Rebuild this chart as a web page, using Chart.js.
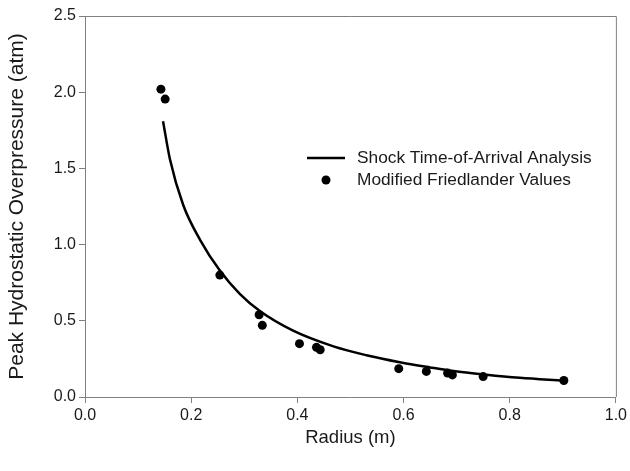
<!DOCTYPE html>
<html>
<head>
<meta charset="utf-8">
<script src="https://cdn.jsdelivr.net/npm/chart.js@4/dist/chart.umd.min.js"></script>
<style>
  html, body { margin: 0; padding: 0; background: #fff; }
  #wrap { width: 630px; height: 471px; }
</style>
</head>
<body>
<div id="wrap"><canvas id="chart" width="630" height="471"></canvas></div>
<script>
// Shock time-of-arrival curve
const curveR = [0.147, 0.160, 0.185, 0.217, 0.254, 0.292, 0.330, 0.392, 0.468, 0.530, 0.593, 0.650, 0.694, 0.756, 0.819, 0.901];
const curveP = [1.81, 1.56, 1.26, 1.03, 0.83, 0.675, 0.562, 0.435, 0.332, 0.274, 0.228, 0.194, 0.170, 0.146, 0.126, 0.107];

// Modified Friedlander points
const friedR = [0.143, 0.151, 0.254, 0.328, 0.334, 0.404, 0.436, 0.443, 0.591, 0.643, 0.683, 0.692, 0.750, 0.902];
const friedP = [2.02, 1.955, 0.80, 0.54, 0.47, 0.35, 0.326, 0.31, 0.186, 0.168, 0.157, 0.145, 0.134, 0.108];

const seriesNames = ["Shock Time-of-Arrival Analysis", "Modified Friedlander Values"];
const xTicks = [0, 0.2, 0.4, 0.6, 0.8, 1.0];
const yTicks = [0, 0.5, 1.0, 1.5, 2.0, 2.5];

const axisGrey = "#808080";
const textColor = "#1a1a1a";
const font = "'Liberation Sans', Arial, sans-serif";

const zip = (xs, ys) => xs.map((x, i) => ({ x, y: ys[i] }));

// top + right border lines of the plot box
const frame = {
  id: "frame",
  afterDraw(chart) {
    const { ctx, chartArea: a } = chart;
    ctx.save();
    ctx.strokeStyle = axisGrey;
    ctx.lineWidth = 1;
    ctx.beginPath();
    ctx.moveTo(a.left, a.top + 0.5);
    ctx.lineTo(a.right + 0.5, a.top + 0.5);
    ctx.lineTo(a.right + 0.5, a.bottom);
    ctx.stroke();
    ctx.restore();
  }
};

// legend sitting inside the plot
const insideLegend = {
  id: "insideLegend",
  afterDraw(chart) {
    const ctx = chart.ctx;
    const x0 = 307, x1 = 345, tx = 357;
    const rows = [158, 180];
    ctx.save();
    ctx.fillStyle = textColor;
    ctx.strokeStyle = "#000";
    ctx.font = "17.3px " + font;
    ctx.textBaseline = "middle";

    ctx.lineWidth = 2.5;
    ctx.beginPath();
    ctx.moveTo(x0, rows[0]);
    ctx.lineTo(x1, rows[0]);
    ctx.stroke();
    ctx.fillText(seriesNames[0], tx, rows[0]);

    ctx.fillStyle = "#000";
    ctx.beginPath();
    ctx.arc((x0 + x1) / 2, rows[1], 4.5, 0, Math.PI * 2);
    ctx.fill();
    ctx.fillStyle = textColor;
    ctx.fillText(seriesNames[1], tx, rows[1]);
    ctx.restore();
  }
};

new Chart(document.getElementById("chart"), {
  type: "scatter",
  data: {
    datasets: [
      {
        label: seriesNames[0],
        data: zip(curveR, curveP),
        showLine: true,
        borderColor: "#000",
        borderWidth: 2.5,
        pointRadius: 0,
        cubicInterpolationMode: "monotone",
        fill: false
      },
      {
        label: seriesNames[1],
        data: zip(friedR, friedP),
        showLine: false,
        pointRadius: 4.5,
        pointBackgroundColor: "#000",
        pointBorderWidth: 0
      }
    ]
  },
  options: {
    responsive: false,
    animation: false,
    layout: { padding: { top: 16, right: 14, left: 0, bottom: 0 } },
    plugins: { legend: { display: false }, tooltip: { enabled: false } },
    scales: {
      x: {
        type: "linear",
        min: 0,
        max: 1,
        afterBuildTicks: s => { s.ticks = xTicks.map(v => ({ value: v })); },
        afterFit: s => { s.height = 74; },
        ticks: {
          color: textColor,
          font: { family: font, size: 16 },
          padding: 3,
          maxRotation: 0,
          callback: v => Number(v).toFixed(1)
        },
        grid: { drawOnChartArea: false, drawTicks: true, tickLength: 6, color: axisGrey },
        border: { color: axisGrey, width: 1 },
        title: {
          display: true,
          text: "Radius (m)",
          color: textColor,
          font: { family: font, size: 18.5 },
          padding: { top: 0, bottom: 22 }
        }
      },
      y: {
        type: "linear",
        min: 0,
        max: 2.5,
        afterBuildTicks: s => { s.ticks = yTicks.map(v => ({ value: v })); },
        afterFit: s => { s.width = 85; },
        ticks: {
          color: textColor,
          font: { family: font, size: 16 },
          padding: 3,
          callback: v => Number(v).toFixed(1)
        },
        grid: { drawOnChartArea: false, drawTicks: true, tickLength: 6, color: axisGrey },
        border: { color: axisGrey, width: 1 },
        title: {
          display: true,
          text: "Peak Hydrostatic Overpressure (atm)",
          color: textColor,
          font: { family: font, size: 21 },
          padding: { top: 5, bottom: 0 }
        }
      }
    }
  },
  plugins: [frame, insideLegend]
});
</script>
</body>
</html>
